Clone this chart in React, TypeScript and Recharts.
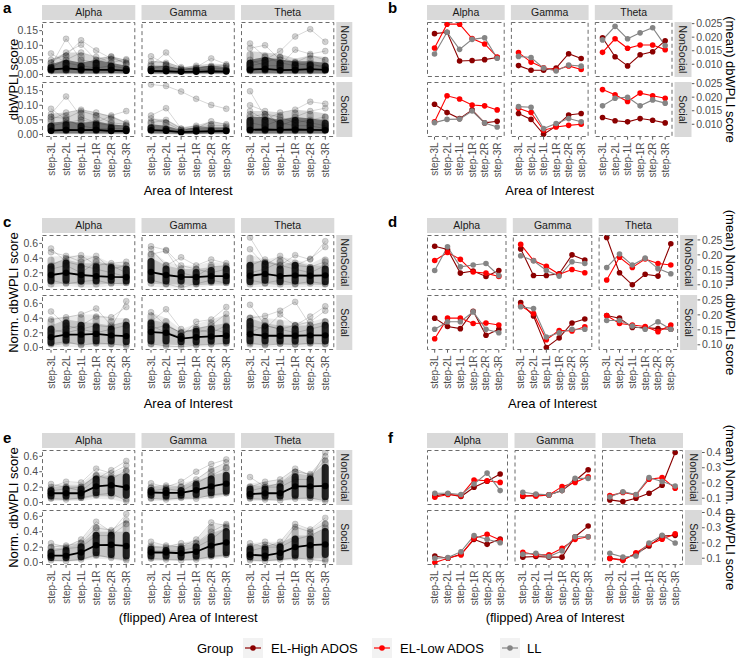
import React from "react";
import { ComposedChart, LineChart, Line, Area, Bar, XAxis, YAxis } from "recharts";

// ---------- categories ----------
const AOIS = ["step-3L", "step-2L", "step-1L", "step-1R", "step-2R", "step-3R"];
const BANDS = ["Alpha", "Gamma", "Theta"];
const CONDITIONS = ["NonSocial", "Social"];
const GROUPS = ["EL-High ADOS", "EL-Low ADOS", "LL"];

// Facet order in every table: NonSocial x (Alpha, Gamma, Theta), then Social x (Alpha, Gamma, Theta).

// ---------- a: individual dbWPLI scores ----------
const dbwpliMean = [
  [0.017, 0.021, 0.017, 0.016, 0.016, 0.013],
  [0.012, 0.011, 0.009, 0.009, 0.011, 0.010],
  [0.017, 0.019, 0.015, 0.016, 0.018, 0.016],
  [0.013, 0.016, 0.015, 0.016, 0.012, 0.012],
  [0.015, 0.013, 0.008, 0.010, 0.011, 0.012],
  [0.016, 0.017, 0.016, 0.017, 0.016, 0.015],
];
const dbwpliCoreLow = [
  [0.003, 0.004, 0.003, 0.003, 0.004, 0.003],
  [0.003, 0.003, 0.002, 0.003, 0.003, 0.003],
  [0.003, 0.004, 0.003, 0.003, 0.003, 0.003],
  [0.003, 0.003, 0.003, 0.003, 0.003, 0.003],
  [0.003, 0.003, 0.002, 0.002, 0.003, 0.003],
  [0.003, 0.003, 0.003, 0.003, 0.003, 0.003],
];
const dbwpliCoreHigh = [
  [0.035, 0.050, 0.040, 0.050, 0.040, 0.030],
  [0.030, 0.030, 0.020, 0.025, 0.030, 0.025],
  [0.050, 0.060, 0.050, 0.045, 0.045, 0.040],
  [0.040, 0.045, 0.040, 0.045, 0.035, 0.030],
  [0.035, 0.030, 0.015, 0.025, 0.025, 0.025],
  [0.060, 0.060, 0.050, 0.060, 0.055, 0.050],
];
const dbwpliSpreadLow = [
  [0.001, 0.001, 0.001, 0.001, 0.001, 0.001],
  [0.001, 0.001, 0.001, 0.001, 0.001, 0.001],
  [0.001, 0.001, 0.001, 0.001, 0.001, 0.001],
  [0.001, 0.001, 0.001, 0.001, 0.001, 0.001],
  [0.001, 0.001, 0.000, 0.001, 0.001, 0.001],
  [0.001, 0.001, 0.001, 0.001, 0.001, 0.001],
];
const dbwpliSpreadHigh = [
  [0.052, 0.075, 0.075, 0.058, 0.062, 0.050],
  [0.045, 0.045, 0.025, 0.032, 0.038, 0.035],
  [0.080, 0.075, 0.070, 0.055, 0.065, 0.060],
  [0.072, 0.075, 0.085, 0.075, 0.065, 0.042],
  [0.055, 0.052, 0.025, 0.032, 0.045, 0.036],
  [0.080, 0.080, 0.075, 0.085, 0.080, 0.072],
];
const dbwpliTraces = [
  [[0.072, 0.040, 0.030, 0.022, 0.030, 0.020], [0.030, 0.122, 0.050, 0.040, 0.060, 0.048], [0.050, 0.065, 0.117, 0.082, 0.055, 0.040], [0.040, 0.075, 0.102, 0.050, 0.062, 0.035], [0.025, 0.050, 0.075, 0.060, 0.040, 0.052]],
  [[0.062, 0.035, 0.020, 0.015, 0.020, 0.020], [0.030, 0.075, 0.020, 0.030, 0.025, 0.030], [0.020, 0.030, 0.015, 0.025, 0.055, 0.035], [0.045, 0.040, 0.025, 0.020, 0.030, 0.030]],
  [[0.106, 0.060, 0.040, 0.030, 0.040, 0.020], [0.090, 0.100, 0.050, 0.040, 0.030, 0.030], [0.040, 0.050, 0.080, 0.130, 0.155, 0.112], [0.050, 0.030, 0.030, 0.085, 0.070, 0.080], [0.030, 0.040, 0.060, 0.040, 0.065, 0.050]],
  [[0.088, 0.050, 0.030, 0.020, 0.020, 0.020], [0.070, 0.130, 0.060, 0.040, 0.030, 0.030], [0.050, 0.075, 0.085, 0.075, 0.060, 0.040], [0.030, 0.040, 0.050, 0.040, 0.065, 0.080], [0.060, 0.055, 0.080, 0.065, 0.040, 0.035]],
  [[0.171, 0.166, 0.147, 0.122, 0.101, 0.088], [0.065, 0.090, 0.020, 0.030, 0.020, 0.020], [0.040, 0.050, 0.020, 0.020, 0.045, 0.035], [0.055, 0.040, 0.015, 0.025, 0.030, 0.030]],
  [[0.148, 0.060, 0.040, 0.030, 0.030, 0.020], [0.100, 0.080, 0.030, 0.050, 0.040, 0.030], [0.080, 0.050, 0.075, 0.085, 0.112, 0.105], [0.040, 0.030, 0.050, 0.060, 0.080, 0.090], [0.060, 0.070, 0.060, 0.040, 0.050, 0.060]],
];

// ---------- c: individual normalised dbWPLI scores ----------
const normMean = [
  [0.170, 0.200, 0.170, 0.155, 0.145, 0.140],
  [0.210, 0.170, 0.145, 0.140, 0.155, 0.155],
  [0.160, 0.185, 0.155, 0.165, 0.160, 0.165],
  [0.140, 0.175, 0.175, 0.185, 0.165, 0.155],
  [0.210, 0.200, 0.120, 0.140, 0.150, 0.160],
  [0.180, 0.160, 0.160, 0.160, 0.165, 0.165],
];
const normCoreLow = [
  [0.04, 0.05, 0.04, 0.04, 0.05, 0.04],
  [0.05, 0.04, 0.04, 0.03, 0.04, 0.04],
  [0.03, 0.05, 0.03, 0.04, 0.04, 0.03],
  [0.02, 0.05, 0.04, 0.04, 0.04, 0.03],
  [0.04, 0.04, 0.03, 0.03, 0.04, 0.04],
  [0.04, 0.04, 0.04, 0.04, 0.04, 0.04],
];
const normCoreHigh = [
  [0.33, 0.38, 0.33, 0.33, 0.32, 0.30],
  [0.40, 0.30, 0.25, 0.25, 0.28, 0.30],
  [0.35, 0.37, 0.30, 0.35, 0.30, 0.30],
  [0.30, 0.38, 0.35, 0.33, 0.30, 0.35],
  [0.38, 0.33, 0.20, 0.27, 0.30, 0.33],
  [0.40, 0.33, 0.30, 0.30, 0.30, 0.35],
];
const normSpreadLow = [
  [0.00, 0.02, 0.00, 0.00, 0.02, 0.02],
  [0.01, 0.00, 0.00, 0.00, 0.02, 0.02],
  [0.00, 0.01, 0.00, 0.00, 0.01, 0.00],
  [0.00, 0.01, 0.00, 0.01, 0.00, 0.00],
  [0.00, 0.00, 0.00, 0.00, 0.01, 0.01],
  [0.00, 0.00, 0.01, 0.00, 0.01, 0.00],
];
const normSpreadHigh = [
  [0.42, 0.43, 0.44, 0.43, 0.33, 0.35],
  [0.50, 0.35, 0.30, 0.30, 0.35, 0.33],
  [0.45, 0.38, 0.42, 0.38, 0.32, 0.42],
  [0.40, 0.42, 0.45, 0.45, 0.40, 0.40],
  [0.48, 0.40, 0.25, 0.32, 0.38, 0.45],
  [0.45, 0.40, 0.38, 0.35, 0.35, 0.40],
];
const normTraces = [
  [[0.53, 0.35, 0.30, 0.25, 0.20, 0.15], [0.48, 0.43, 0.35, 0.43, 0.25, 0.30], [0.30, 0.40, 0.44, 0.30, 0.33, 0.35], [0.10, 0.05, 0.08, 0.10, 0.05, 0.06], [0.25, 0.30, 0.20, 0.35, 0.30, 0.20]],
  [[0.56, 0.51, 0.30, 0.25, 0.20, 0.25], [0.52, 0.30, 0.41, 0.30, 0.38, 0.33], [0.45, 0.50, 0.20, 0.15, 0.28, 0.30], [0.10, 0.05, 0.00, 0.05, 0.10, 0.06]],
  [[0.68, 0.35, 0.30, 0.25, 0.20, 0.30], [0.52, 0.30, 0.43, 0.30, 0.28, 0.35], [0.30, 0.38, 0.30, 0.44, 0.38, 0.63], [0.20, 0.25, 0.35, 0.30, 0.39, 0.55], [0.10, 0.06, 0.10, 0.05, 0.08, 0.05]],
  [[0.49, 0.30, 0.25, 0.20, 0.25, 0.30], [0.38, 0.41, 0.45, 0.53, 0.30, 0.35], [0.20, 0.25, 0.30, 0.42, 0.41, 0.55], [0.25, 0.20, 0.25, 0.30, 0.28, 0.63], [0.05, 0.08, 0.03, 0.06, 0.05, 0.02]],
  [[0.48, 0.30, 0.20, 0.25, 0.20, 0.30], [0.35, 0.52, 0.25, 0.20, 0.25, 0.20], [0.30, 0.20, 0.15, 0.35, 0.38, 0.55], [0.25, 0.30, 0.20, 0.25, 0.30, 0.46], [0.05, 0.02, 0.01, 0.03, 0.04, 0.06]],
  [[0.58, 0.30, 0.25, 0.20, 0.25, 0.30], [0.40, 0.43, 0.50, 0.62, 0.30, 0.35], [0.30, 0.25, 0.45, 0.30, 0.42, 0.56], [0.20, 0.30, 0.25, 0.30, 0.35, 0.50], [0.06, 0.03, 0.05, 0.04, 0.06, 0.05]],
];

// ---------- e: individual normalised scores, flipped AOI ----------
const flipMean = [
  [0.120, 0.120, 0.120, 0.210, 0.225, 0.195],
  [0.130, 0.125, 0.125, 0.160, 0.210, 0.245],
  [0.110, 0.120, 0.120, 0.210, 0.210, 0.215],
  [0.090, 0.090, 0.130, 0.225, 0.230, 0.215],
  [0.130, 0.130, 0.120, 0.140, 0.220, 0.260],
  [0.100, 0.090, 0.125, 0.200, 0.225, 0.235],
];
const flipCoreLow = [
  [0.04, 0.04, 0.04, 0.08, 0.08, 0.05],
  [0.05, 0.04, 0.05, 0.06, 0.08, 0.10],
  [0.04, 0.04, 0.04, 0.05, 0.05, 0.03],
  [0.02, 0.02, 0.03, 0.08, 0.06, 0.04],
  [0.04, 0.04, 0.03, 0.04, 0.06, 0.08],
  [0.03, 0.02, 0.03, 0.05, 0.05, 0.06],
];
const flipCoreHigh = [
  [0.20, 0.22, 0.22, 0.35, 0.35, 0.38],
  [0.20, 0.20, 0.20, 0.28, 0.35, 0.40],
  [0.22, 0.22, 0.25, 0.38, 0.35, 0.50],
  [0.18, 0.20, 0.25, 0.40, 0.40, 0.40],
  [0.22, 0.20, 0.22, 0.25, 0.38, 0.45],
  [0.22, 0.22, 0.25, 0.35, 0.35, 0.45],
];
const flipSpreadLow = [
  [0.02, 0.02, 0.02, 0.05, 0.04, 0.00],
  [0.02, 0.02, 0.03, 0.04, 0.05, 0.08],
  [0.02, 0.02, 0.02, 0.03, 0.02, 0.00],
  [0.01, 0.01, 0.02, 0.05, 0.04, 0.01],
  [0.02, 0.02, 0.02, 0.02, 0.04, 0.06],
  [0.01, 0.01, 0.02, 0.03, 0.03, 0.00],
];
const flipSpreadHigh = [
  [0.22, 0.25, 0.25, 0.40, 0.38, 0.45],
  [0.23, 0.22, 0.25, 0.30, 0.45, 0.50],
  [0.25, 0.27, 0.30, 0.44, 0.37, 0.58],
  [0.24, 0.22, 0.30, 0.50, 0.42, 0.55],
  [0.26, 0.22, 0.25, 0.30, 0.50, 0.50],
  [0.25, 0.27, 0.27, 0.48, 0.43, 0.55],
];
const flipTraces = [
  [[0.24, 0.20, 0.15, 0.30, 0.42, 0.54], [0.20, 0.27, 0.26, 0.44, 0.38, 0.48], [0.15, 0.18, 0.20, 0.35, 0.30, 0.42], [0.05, 0.04, 0.06, 0.10, 0.12, 0.02]],
  [[0.25, 0.20, 0.27, 0.40, 0.50, 0.56], [0.20, 0.22, 0.20, 0.30, 0.43, 0.52], [0.15, 0.18, 0.15, 0.25, 0.35, 0.45], [0.05, 0.04, 0.06, 0.05, 0.10, 0.12]],
  [[0.33, 0.20, 0.20, 0.30, 0.30, 0.65], [0.20, 0.27, 0.30, 0.44, 0.35, 0.55], [0.15, 0.20, 0.25, 0.40, 0.37, 0.60], [0.05, 0.04, 0.03, 0.05, 0.06, 0.02]],
  [[0.25, 0.20, 0.30, 0.53, 0.40, 0.63], [0.20, 0.22, 0.25, 0.45, 0.42, 0.55], [0.15, 0.18, 0.20, 0.35, 0.35, 0.50], [0.03, 0.02, 0.04, 0.10, 0.06, 0.03]],
  [[0.27, 0.22, 0.20, 0.30, 0.52, 0.48], [0.20, 0.20, 0.25, 0.25, 0.40, 0.50], [0.15, 0.15, 0.15, 0.20, 0.30, 0.45], [0.05, 0.04, 0.03, 0.04, 0.08, 0.10]],
  [[0.25, 0.20, 0.27, 0.50, 0.43, 0.58], [0.20, 0.27, 0.20, 0.46, 0.40, 0.50], [0.15, 0.20, 0.20, 0.30, 0.35, 0.45], [0.03, 0.02, 0.04, 0.06, 0.04, 0.02]],
];

// ---------- b: group means of dbWPLI (EL-High ADOS, EL-Low ADOS, LL) ----------
const dbwpliGroupMeans = [
  [[0.0213, 0.0218, 0.0112, 0.0114, 0.0117, 0.0125], [0.0160, 0.0248, 0.0248, 0.0195, 0.0175, 0.0127], [0.0138, 0.0218, 0.0155, 0.0192, 0.0198, 0.0122]],
  [[0.0095, 0.0078, 0.0078, 0.0086, 0.0139, 0.0121], [0.0143, 0.0108, 0.0087, 0.0079, 0.0094, 0.0081], [0.0129, 0.0125, 0.0086, 0.0075, 0.0097, 0.0093]],
  [[0.0198, 0.0128, 0.0094, 0.0135, 0.0146, 0.0187], [0.0144, 0.0194, 0.0159, 0.0171, 0.0171, 0.0154], [0.0190, 0.0240, 0.0194, 0.0216, 0.0235, 0.0169]],
  [[0.0174, 0.0143, 0.0121, 0.0153, 0.0105, 0.0111], [0.0109, 0.0205, 0.0193, 0.0171, 0.0168, 0.0153], [0.0106, 0.0118, 0.0119, 0.0149, 0.0105, 0.0090]],
  [[0.0140, 0.0118, 0.0063, 0.0093, 0.0134, 0.0140], [0.0159, 0.0143, 0.0078, 0.0090, 0.0096, 0.0100], [0.0165, 0.0163, 0.0084, 0.0103, 0.0121, 0.0109]],
  [[0.0125, 0.0113, 0.0109, 0.0121, 0.0115, 0.0105], [0.0228, 0.0209, 0.0184, 0.0215, 0.0205, 0.0196], [0.0168, 0.0196, 0.0200, 0.0168, 0.0190, 0.0178]],
];

// ---------- d: group means of normalised dbWPLI ----------
const normGroupMeans = [
  [[0.229, 0.218, 0.139, 0.146, 0.128, 0.148], [0.181, 0.208, 0.185, 0.143, 0.139, 0.128], [0.148, 0.227, 0.160, 0.166, 0.171, 0.131]],
  [[0.220, 0.131, 0.131, 0.137, 0.200, 0.183], [0.235, 0.181, 0.162, 0.135, 0.151, 0.140], [0.197, 0.180, 0.148, 0.129, 0.177, 0.171]],
  [[0.258, 0.140, 0.100, 0.135, 0.129, 0.237], [0.116, 0.192, 0.158, 0.186, 0.171, 0.166], [0.158, 0.203, 0.166, 0.189, 0.154, 0.137]],
  [[0.189, 0.161, 0.154, 0.212, 0.132, 0.152], [0.120, 0.189, 0.189, 0.171, 0.173, 0.166], [0.152, 0.177, 0.177, 0.210, 0.152, 0.140]],
  [[0.241, 0.196, 0.091, 0.123, 0.173, 0.186], [0.230, 0.204, 0.117, 0.148, 0.146, 0.160], [0.227, 0.221, 0.126, 0.140, 0.152, 0.152]],
  [[0.198, 0.189, 0.158, 0.158, 0.154, 0.152], [0.198, 0.171, 0.166, 0.161, 0.144, 0.166], [0.181, 0.181, 0.163, 0.152, 0.177, 0.152]],
];

// ---------- f: group means of normalised dbWPLI, flipped AOI ----------
const flipGroupMeans = [
  [[0.117, 0.128, 0.111, 0.172, 0.211, 0.259], [0.107, 0.124, 0.117, 0.220, 0.215, 0.204], [0.133, 0.133, 0.124, 0.193, 0.265, 0.150]],
  [[0.111, 0.122, 0.122, 0.150, 0.215, 0.287], [0.117, 0.113, 0.122, 0.176, 0.204, 0.241], [0.139, 0.128, 0.122, 0.150, 0.230, 0.230]],
  [[0.089, 0.078, 0.100, 0.133, 0.185, 0.400], [0.117, 0.138, 0.122, 0.225, 0.235, 0.165], [0.108, 0.143, 0.124, 0.235, 0.210, 0.180]],
  [[0.115, 0.100, 0.126, 0.224, 0.191, 0.226], [0.072, 0.100, 0.122, 0.230, 0.257, 0.220], [0.100, 0.104, 0.143, 0.248, 0.224, 0.202]],
  [[0.107, 0.111, 0.107, 0.107, 0.241, 0.311], [0.139, 0.122, 0.122, 0.165, 0.224, 0.241], [0.126, 0.133, 0.111, 0.148, 0.241, 0.241]],
  [[0.100, 0.090, 0.130, 0.180, 0.245, 0.250], [0.098, 0.086, 0.135, 0.190, 0.225, 0.260], [0.132, 0.108, 0.115, 0.200, 0.250, 0.200]],
];

// ---------- layout & style ----------
const FONT = '"Liberation Sans", Arial, Helvetica, sans-serif';
const TICK_FILL = "#4D4D4D";
const TICK_STROKE = "#333333";
const STRIP_FILL = "#D9D9D9";
const GROUP_COLORS = ["#8B0000", "#FF0000", "#858585"];
const PANEL_H = 55;
const X_AXIS_H = 46;
const PAD_V = 7; // extra room above/below a panel so edge tick labels are not clipped
const BAR_W = 7;
const LEFT_COLS = [42, 141.5, 241];
const LEFT_W = 93.3;

const SPAGHETTI_BLOCKS = [
  {
    letter: "a", baseline: 13, rows: [22, 82], domain: [-0.0086, 0.1796], ticks: [0, 0.05, 0.1, 0.15], digits: 2,
    yTitle: "dbWPLI score", xTitle: "Area of Interest", xTitleY: 190, spreadHaze: 0.16, coreHaze: 0.45,
    set: { mean: dbwpliMean, coreLow: dbwpliCoreLow, coreHigh: dbwpliCoreHigh, spreadLow: dbwpliSpreadLow, spreadHigh: dbwpliSpreadHigh, traces: dbwpliTraces },
  },
  {
    letter: "c", baseline: 227, rows: [235, 295], domain: [-0.034, 0.714], ticks: [0, 0.2, 0.4, 0.6], digits: 1,
    yTitle: "Norm. dbWPLI score", xTitle: "Area of Interest", xTitleY: 403, spreadHaze: 0.08, coreHaze: 0.16,
    set: { mean: normMean, coreLow: normCoreLow, coreHigh: normCoreHigh, spreadLow: normSpreadLow, spreadHigh: normSpreadHigh, traces: normTraces },
  },
  {
    letter: "e", baseline: 443, rows: [450, 510], domain: [-0.0325, 0.6825], ticks: [0, 0.2, 0.4, 0.6], digits: 1,
    yTitle: "Norm. dbWPLI score", xTitle: "(flipped) Area of Interest", xTitleY: 617, spreadHaze: 0.08, coreHaze: 0.16,
    set: { mean: flipMean, coreLow: flipCoreLow, coreHigh: flipCoreHigh, spreadLow: flipSpreadLow, spreadHigh: flipSpreadHigh, traces: flipTraces },
  },
];

const GROUP_BLOCKS = [
  {
    letter: "b", baseline: 13, cols: [427, 510.9, 594.8], w: 77.7, rows: [22, 82], domain: [0.0053, 0.0256],
    ticks: [0.01, 0.015, 0.02, 0.025], digits: 3, yTitle: "(mean) dbWPLI score", xTitle: "Area of Interest", xTitleY: 190,
    means: dbwpliGroupMeans,
  },
  {
    letter: "d", baseline: 227, cols: [427, 512.8, 598.6], w: 79.5, rows: [235, 295], domain: [0.0826, 0.2664],
    ticks: [0.1, 0.15, 0.2, 0.25], digits: 2, yTitle: "(mean) Norm. dbWPLI score", xTitle: "Area of Interest", xTitleY: 403,
    means: normGroupMeans,
  },
  {
    letter: "f", baseline: 443, cols: [427, 514.5, 602], w: 81, rows: [450, 510], domain: [0.0556, 0.4164],
    ticks: [0.1, 0.2, 0.3, 0.4], digits: 1, yTitle: "(mean) Norm. dbWPLI score", xTitle: "(flipped) Area of Interest", xTitleY: 617,
    means: flipGroupMeans,
  },
];

// ---------- axis ticks ----------
const bottomTick = (top: number) => (props: any) => {
  const { x, payload } = props;
  return (
    <g>
      <line x1={x} x2={x} y1={top + PANEL_H} y2={top + PANEL_H + 2.7} stroke={TICK_STROKE} strokeWidth={0.8} />
      <text transform={`translate(${x},${top + PANEL_H + 5.5}) rotate(-90)`} textAnchor="end" dy="0.35em"
        fontSize={10} fill={TICK_FILL} fontFamily={FONT}>{payload.value}</text>
    </g>
  );
};

const rightTick = (edge: number, digits: number) => (props: any) => {
  const { y, payload } = props;
  return (
    <g>
      <line x1={edge} x2={edge + 2.7} y1={y} y2={y} stroke={TICK_STROKE} strokeWidth={0.8} />
      <text x={edge + 4.5} y={y} dy="0.35em" textAnchor="start" fontSize={10.5} fill={TICK_FILL} fontFamily={FONT}>
        {Number(payload.value).toFixed(digits)}
      </text>
    </g>
  );
};

// ---------- facets ----------
function SpaghettiPanel({ block, f }: { block: any; f: number }) {
  const r = Math.floor(f / 3);
  const c = f % 3;
  const x = LEFT_COLS[c];
  const y = block.rows[r];
  const w = LEFT_W;
  const showY = c === 0;
  const showX = r === 1;
  const yw = showY ? x : 0;
  const xh = showX ? X_AXIS_H : 0;
  const bottomPad = showX ? 0 : PAD_V;
  const s = block.set;
  const traces: number[][] = s.traces[f];
  const data = AOIS.map((aoi, i) => {
    const row: Record<string, any> = {
      aoi,
      mean: s.mean[f][i],
      core: [s.coreLow[f][i], s.coreHigh[f][i]],
      spread: [s.spreadLow[f][i], s.spreadHigh[f][i]],
    };
    traces.forEach((t, k) => {
      row["t" + k] = t[i];
    });
    return row;
  });
  const pad = w / 62;
  return (
    <div style={{ position: "absolute", left: x - yw, top: y - PAD_V }}>
      <ComposedChart width={w + yw} height={PANEL_H + PAD_V + bottomPad + xh} data={data}
        margin={{ top: PAD_V, right: 0, bottom: bottomPad, left: 0 }} barGap={-BAR_W}>
        <XAxis dataKey="aoi" type="category" scale="band" padding={{ left: pad, right: pad }}
          hide={!showX} height={showX ? X_AXIS_H : undefined} interval={0}
          tickLine={false} axisLine={false} tick={bottomTick(PAD_V)} />
        <YAxis type="number" domain={block.domain} ticks={block.ticks} allowDataOverflow
          hide={!showY} width={showY ? yw : undefined} interval={0}
          axisLine={false} tickSize={2.7} tickMargin={1.3}
          tickLine={{ stroke: TICK_STROKE, strokeWidth: 0.8 }}
          tick={{ fill: TICK_FILL, fontSize: 10.5, fontFamily: FONT }}
          tickFormatter={(v: number) => v.toFixed(block.digits)} />
        <Area type="linear" dataKey="spread" stroke="none" fill="#000" fillOpacity={block.spreadHaze}
          dot={false} activeDot={false} isAnimationActive={false} />
        <Area type="linear" dataKey="core" stroke="none" fill="#000" fillOpacity={block.coreHaze}
          dot={false} activeDot={false} isAnimationActive={false} />
        <Bar dataKey="spread" barSize={BAR_W} fill="#000" fillOpacity={0.25} radius={BAR_W / 2}
          isAnimationActive={false} />
        <Bar dataKey="core" barSize={BAR_W} fill="#111" fillOpacity={0.9} radius={BAR_W / 2}
          isAnimationActive={false} />
        {traces.map((_, k) => (
          <Line key={k} type="linear" dataKey={"t" + k} stroke="#000" strokeOpacity={0.2} strokeWidth={0.8}
            dot={{ r: 3, fill: "#000", fillOpacity: 0.18, stroke: "#000", strokeOpacity: 0.25, strokeWidth: 0.5 }}
            activeDot={false} isAnimationActive={false} />
        ))}
        <Line type="linear" dataKey="mean" stroke="#000" strokeWidth={1.8}
          dot={{ r: 3.2, fill: "#000", stroke: "#000", strokeWidth: 0 }} activeDot={false} isAnimationActive={false} />
      </ComposedChart>
    </div>
  );
}

function GroupPanel({ block, f }: { block: any; f: number }) {
  const r = Math.floor(f / 3);
  const c = f % 3;
  const x = block.cols[c];
  const y = block.rows[r];
  const w = block.w;
  const showY = c === 2;
  const showX = r === 1;
  const yw = showY ? Math.floor(738 - (x + w) - 1) : 0;
  const xh = showX ? X_AXIS_H : 0;
  const bottomPad = showX ? 0 : PAD_V;
  const data = AOIS.map((aoi, i) => {
    const row: Record<string, any> = { aoi };
    GROUPS.forEach((_, g) => {
      row["g" + g] = block.means[f][g][i];
    });
    return row;
  });
  const pad = (0.6 * w) / 6.2;
  return (
    <div style={{ position: "absolute", left: x, top: y - PAD_V }}>
      <LineChart width={w + yw} height={PANEL_H + PAD_V + bottomPad + xh} data={data}
        margin={{ top: PAD_V, right: 0, bottom: bottomPad, left: 0 }}>
        <XAxis dataKey="aoi" type="category" scale="point" padding={{ left: pad, right: pad }}
          hide={!showX} height={showX ? X_AXIS_H : undefined} interval={0}
          tickLine={false} axisLine={false} tick={bottomTick(PAD_V)} />
        <YAxis type="number" orientation="right" domain={block.domain} ticks={block.ticks} allowDataOverflow
          hide={!showY} width={showY ? yw : undefined} interval={0}
          tickLine={false} axisLine={false} tick={rightTick(w + 19, block.digits)} />
        {GROUPS.map((name, g) => (
          <Line key={name} name={name} type="linear" dataKey={"g" + g} stroke={GROUP_COLORS[g]} strokeWidth={1.1}
            dot={{ r: 2.8, fill: GROUP_COLORS[g], stroke: GROUP_COLORS[g], strokeWidth: 0 }}
            activeDot={false} isAnimationActive={false} />
        ))}
      </LineChart>
    </div>
  );
}

// ---------- strips, borders, titles ----------
function Decorations({ cols, w, rows, stripW, letter, letterX, baseline, yTitle, yTitleX, yTitleRot, xTitle, xTitleY }: any) {
  const rightEdge = cols[2] + w;
  const midY = (rows[0] + rows[1] + PANEL_H) / 2;
  return (
    <g fontFamily={FONT}>
      <text x={letterX} y={baseline} fontSize={15} fontWeight="bold" fill="#000">{letter}</text>
      {BANDS.map((band, c) => (
        <g key={band}>
          <rect x={cols[c]} y={rows[0] - 17} width={w} height={15} fill={STRIP_FILL} />
          <text x={cols[c] + w / 2} y={rows[0] - 9.5} dy="0.35em" textAnchor="middle" fontSize={10.5} fill="#1A1A1A">{band}</text>
        </g>
      ))}
      {CONDITIONS.map((cond, r) => (
        <g key={cond}>
          <rect x={rightEdge + 2} y={rows[r]} width={stripW} height={PANEL_H} fill={STRIP_FILL} />
          <text transform={`translate(${rightEdge + 2 + stripW / 2},${rows[r] + PANEL_H / 2}) rotate(90)`}
            dy="0.35em" textAnchor="middle" fontSize={10.5} fill="#1A1A1A">{cond}</text>
        </g>
      ))}
      {rows.map((ry: number) =>
        cols.map((cx: number) => (
          <rect key={`${ry}-${cx}`} x={cx + 0.5} y={ry + 0.5} width={w - 1} height={PANEL_H - 1} fill="none"
            stroke="#5A5A5A" strokeWidth={0.9} strokeDasharray="4 3" />
        ))
      )}
      <text transform={`translate(${yTitleX},${midY}) rotate(${yTitleRot})`} dy="0.35em" textAnchor="middle"
        fontSize={13} fill="#000">{yTitle}</text>
      <text x={(cols[0] + rightEdge) / 2} y={xTitleY} dy="0.35em" textAnchor="middle" fontSize={13} fill="#000">{xTitle}</text>
    </g>
  );
}

function LegendKey({ x, color, label, textX }: { x: number; color: string; label: string; textX: number }) {
  return (
    <g>
      <rect x={x} y={638} width={20} height={20} fill="#F2F2F2" />
      <line x1={x + 2} x2={x + 18} y1={648} y2={648} stroke={color} strokeWidth={1.2} />
      <circle cx={x + 10} cy={648} r={2.8} fill={color} />
      <text x={textX} y={648} dy="0.35em" fontSize={13} fill="#000" fontFamily={FONT}>{label}</text>
    </g>
  );
}

export default function App() {
  const facets = [0, 1, 2, 3, 4, 5];
  return (
    <div style={{ position: "absolute", left: 0, top: 0, width: 738, height: 658, overflow: "hidden", background: "#fff" }}>
      {SPAGHETTI_BLOCKS.map((block) => facets.map((f) => <SpaghettiPanel key={block.letter + f} block={block} f={f} />))}
      {GROUP_BLOCKS.map((block) => facets.map((f) => <GroupPanel key={block.letter + f} block={block} f={f} />))}
      <svg width={738} height={658} style={{ position: "absolute", left: 0, top: 0, pointerEvents: "none" }}>
        {SPAGHETTI_BLOCKS.map((b) => (
          <Decorations key={b.letter} cols={LEFT_COLS} w={LEFT_W} rows={b.rows} stripW={16} letter={b.letter}
            letterX={3} baseline={b.baseline} yTitle={b.yTitle} yTitleX={13} yTitleRot={-90}
            xTitle={b.xTitle} xTitleY={b.xTitleY} />
        ))}
        {GROUP_BLOCKS.map((b) => (
          <Decorations key={b.letter} cols={b.cols} w={b.w} rows={b.rows} stripW={17} letter={b.letter}
            letterX={388} baseline={b.baseline} yTitle={b.yTitle} yTitleX={731} yTitleRot={90}
            xTitle={b.xTitle} xTitleY={b.xTitleY} />
        ))}
        <text x={197} y={648} dy="0.35em" fontSize={13} fill="#000" fontFamily={FONT}>Group</text>
        <LegendKey x={243} color={GROUP_COLORS[0]} label={GROUPS[0]} textX={271} />
        <LegendKey x={372} color={GROUP_COLORS[1]} label={GROUPS[1]} textX={400} />
        <LegendKey x={500} color={GROUP_COLORS[2]} label={GROUPS[2]} textX={527} />
      </svg>
    </div>
  );
}
